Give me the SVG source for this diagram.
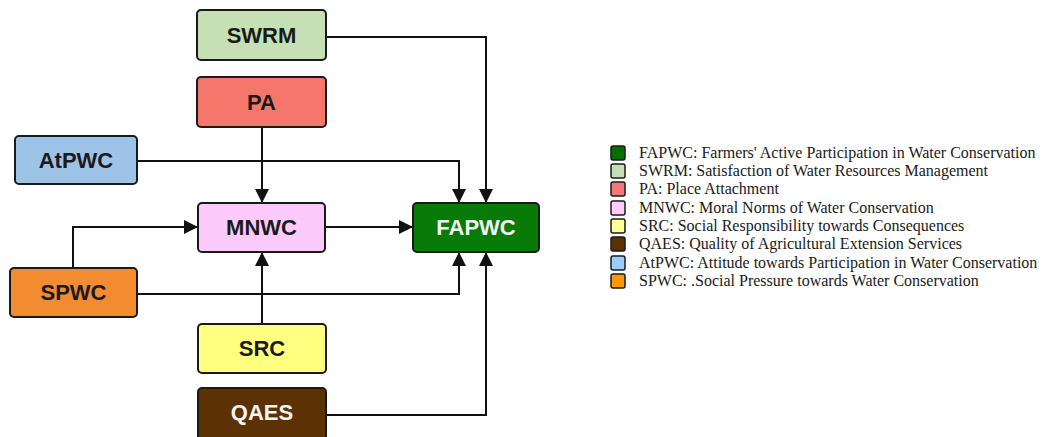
<svg xmlns="http://www.w3.org/2000/svg" width="1049" height="437" viewBox="0 0 1049 437">
<defs>
<marker id="arr" viewBox="0 0 14 14" refX="14" refY="7" markerWidth="14" markerHeight="14" markerUnits="userSpaceOnUse" orient="auto">
<path d="M0,0 L14,7 L0,14 z" fill="#111"/>
</marker>
<style>
.box{stroke:#1a1a1a;stroke-width:2}
.lbl{font-family:"Liberation Sans",Arial,sans-serif;font-weight:bold;font-size:22px;text-anchor:middle;fill:#1a1a1a}
.wl{fill:#f5f5f5}
.con{fill:none;stroke:#111;stroke-width:2;marker-end:url(#arr)}
.sw{stroke:#1a1a1a;stroke-width:1.5}
.lg{font-family:"Liberation Serif","Times New Roman",serif;font-size:16px;fill:#1a1a1a}
</style>
</defs>
<rect width="1049" height="437" fill="#fff"/>
<g id="connectors">
<path class="con" d="M326,37 H486 V203"/>
<path class="con" d="M262,127 V203"/>
<path class="con" d="M137,161 H459 V203"/>
<path class="con" d="M73,268 V227 H198"/>
<path class="con" d="M325,227 H413"/>
<path class="con" d="M137,294 H459 V252"/>
<path class="con" d="M262,324 V252"/>
<path class="con" d="M326,415 H486 V252"/>
</g>
<g id="SWRM"><rect class="box" x="197" y="10" width="129" height="50" rx="4" fill="#c5e0b4"/><text class="lbl" x="261.5" y="43">SWRM</text></g>
<g id="PA"><rect class="box" x="197" y="77" width="129" height="50" rx="4" fill="#f5776b"/><text class="lbl" x="261.5" y="110">PA</text></g>
<g id="AtPWC"><rect class="box" x="15" y="136" width="122" height="48" rx="4" fill="#9dc3e6"/><text class="lbl" x="76" y="168">AtPWC</text></g>
<g id="MNWC"><rect class="box" x="198" y="203" width="127" height="49" rx="4" fill="#fccbfc"/><text class="lbl" x="261.5" y="235">MNWC</text></g>
<g id="FAPWC"><rect class="box" x="413" y="203" width="126" height="49" rx="4" fill="#077a07"/><text class="lbl wl" x="476" y="235">FAPWC</text></g>
<g id="SPWC"><rect class="box" x="10" y="268" width="127" height="49" rx="4" fill="#f38b30"/><text class="lbl" x="73.5" y="300">SPWC</text></g>
<g id="SRC"><rect class="box" x="198" y="324" width="128" height="49" rx="4" fill="#ffff80"/><text class="lbl" x="262" y="356">SRC</text></g>
<g id="QAES"><rect class="box" x="198" y="388" width="128" height="52" rx="4" fill="#5c3204"/><text class="lbl wl" x="262" y="420">QAES</text></g>
<g id="legend">
<rect class="sw" x="611" y="146" width="14" height="14" rx="2" fill="#007000"/>
<text class="lg" x="639" y="158">FAPWC: Farmers' Active Participation in Water Conservation</text>
<rect class="sw" x="611" y="164" width="14" height="14" rx="2" fill="#c5e0b4"/>
<text class="lg" x="639" y="176">SWRM: Satisfaction of Water Resources Management</text>
<rect class="sw" x="611" y="182" width="14" height="14" rx="2" fill="#f5777a"/>
<text class="lg" x="639" y="194">PA: Place Attachment</text>
<rect class="sw" x="611" y="201" width="14" height="14" rx="2" fill="#ffccff"/>
<text class="lg" x="639" y="213">MNWC: Moral Norms of Water Conservation</text>
<rect class="sw" x="611" y="219" width="14" height="14" rx="2" fill="#ffff99"/>
<text class="lg" x="639" y="231">SRC: Social Responsibility towards Consequences</text>
<rect class="sw" x="611" y="237" width="14" height="14" rx="2" fill="#5c3100"/>
<text class="lg" x="639" y="249">QAES: Quality of Agricultural Extension Services</text>
<rect class="sw" x="611" y="256" width="14" height="14" rx="2" fill="#99ccff"/>
<text class="lg" x="639" y="268">AtPWC: Attitude towards Participation in Water Conservation</text>
<rect class="sw" x="611" y="274" width="14" height="14" rx="2" fill="#ff9900"/>
<text class="lg" x="639" y="286">SPWC: .Social Pressure towards Water Conservation</text>
</g>
</svg>
